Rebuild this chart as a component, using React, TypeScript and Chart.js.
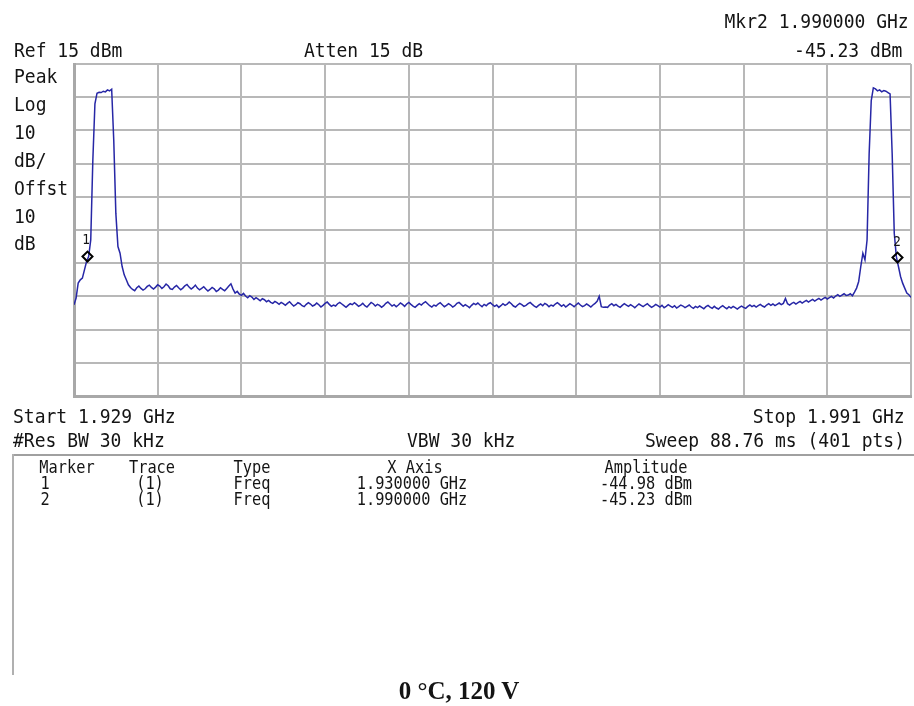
import React, { useEffect, useRef } from "react";
import { Chart, registerables } from "chart.js";

Chart.register(...registerables);

// ---- sweep definition ----
const startMHz = 1929;
const stopMHz = 1991;
const sweepPoints = 401;
const refLevelDbm = 15;
const dbPerDiv = 10;
const divisions = 10;

// ---- trace (dBm), 401 sweep points ----
const traceDbm: number[] = [
  -57.5, -55.5, -51, -50, -49.5, -47, -44.5, -43, -38, -14, 3, 6.2, 6.5, 6.4, 6.8, 6.6, 7.2, 6.9, 7.4, -8,
  -30, -40, -42, -46, -48.5, -50, -51.5, -52.3, -52.9, -53.3, -52.4, -51.9, -52.6, -53.1, -52.7, -52.0, -51.6, -52.3, -52.8, -52.2,
  -51.5, -51.9, -52.6, -52.1, -51.3, -51.8, -52.7, -52.9, -52.2, -51.7, -52.4, -53.0, -52.5, -51.8, -51.4, -52.2, -52.8, -52.3, -51.6, -52.5,
  -53.0, -52.6, -52.1, -52.8, -53.4, -52.9, -52.3, -52.7, -53.5, -53.1, -52.4, -52.9, -53.3, -52.6, -51.9, -51.2, -52.8, -54.0, -53.5, -54.3,
  -54.7, -54.1, -54.9, -55.4, -54.8, -55.2, -55.9, -55.4, -55.8, -56.3, -55.7, -56.0, -56.6, -56.2, -56.8, -57.1, -56.5, -56.9, -57.4, -56.8,
  -57.2, -57.7, -57.1, -56.6, -57.3, -57.9, -57.5, -56.9, -57.2, -57.8, -58.1, -57.4, -56.9, -57.3, -57.9, -57.6, -57.0, -57.5, -58.2, -57.7,
  -57.1, -56.7, -57.4, -58.0, -57.6, -57.9, -57.2, -56.8, -57.3, -57.8, -58.3, -57.7, -57.2, -57.5, -56.9, -57.4, -58.0, -57.6, -57.1, -57.8,
  -58.2, -57.5, -56.8, -57.2, -57.9, -57.4, -57.7, -58.3, -57.8, -57.1, -56.7, -57.3, -57.9, -57.5, -58.1, -57.6, -57.0, -57.4, -58.0, -57.3,
  -56.8, -57.4, -57.9, -58.3, -57.7, -57.2, -57.6, -57.0, -56.6, -57.2, -57.8, -58.2, -57.6, -57.9, -57.3, -56.9, -57.5, -58.1, -57.7, -57.2,
  -57.6, -58.2, -57.8, -57.1, -56.8, -57.4, -58.0, -57.5, -57.9, -58.4, -57.7, -57.1, -57.5, -57.0, -57.6, -58.1, -57.4, -57.8, -57.2, -56.9,
  -57.5, -58.0, -57.6, -58.3, -57.8, -57.2, -57.7, -57.3, -56.7, -57.2, -57.9, -58.2, -57.6, -57.1, -57.5, -58.0, -57.7, -57.2, -56.8, -57.4,
  -57.9, -58.3, -57.7, -57.3, -57.8, -57.1, -57.5, -58.1, -57.6, -57.9, -57.3, -56.9, -57.4, -58.0, -57.5, -58.2, -57.7, -57.2, -57.6, -58.1,
  -57.5, -57.0, -57.6, -58.1, -57.8, -57.3, -57.7, -58.2, -57.6, -57.1, -56.5, -55.0, -58.1, -58.3, -58.2, -58.3, -57.6, -57.2, -57.8, -57.4,
  -57.9, -58.3, -57.7, -57.2, -57.6, -58.0, -57.5, -57.9, -58.4, -57.8, -57.3, -57.7, -58.1, -57.6, -57.2, -57.8, -58.3, -57.9, -57.4, -57.8,
  -58.2, -57.7, -58.4, -58.0, -57.5, -57.9, -58.3, -57.8, -58.5, -58.1, -57.6, -57.9, -58.4, -58.0, -57.6, -58.2, -58.6, -58.0, -58.4, -57.9,
  -58.3, -58.7, -58.1, -57.7, -58.2, -58.6, -58.0, -58.5, -58.8, -58.2, -57.8, -58.3, -58.7, -58.1, -58.5, -58.0, -58.4, -58.8, -58.3, -57.9,
  -58.3, -58.6, -58.0, -57.6, -58.1, -57.7, -58.2, -57.8, -57.4, -57.9, -58.2, -57.6, -57.2, -57.7, -57.3, -57.8, -57.4, -57.0, -57.5, -57.1,
  -55.6, -57.2, -57.6, -57.1, -56.8, -57.3, -56.9, -56.5, -57.0, -56.6, -56.2, -56.7, -56.3, -55.9, -56.4, -56.0, -55.6, -56.1, -55.7, -55.3,
  -55.8, -55.4, -55.0, -55.5, -54.9, -54.5, -55.0, -54.6, -54.2, -54.7,
  -54.6, -54.2, -54.8, -53.7, -52.5, -50.5, -46, -42, -44, -38, -12, 4, 7.8, 7.5, 6.9, 7.2, 6.6, 7.0, 6.8, 6.4,
  6.0, -12, -36, -43, -46, -49, -51, -52.5, -54, -54.5, -55.3,
];

// ---- markers ----
const markerIds = ["1", "2"];
const markerTraces = ["(1)", "(1)"];
const markerTypes = ["Freq", "Freq"];
const markerFreqMHz = [1930, 1990];
const markerFreqText = ["1.930000 GHz", "1.990000 GHz"];
const markerAmpText = ["-44.98 dBm", "-45.23 dBm"];
const markerDrawnDbm = [-43.0, -43.3];

// ---- annotation texts ----
const leftAnnotations = ["Peak", "Log", "10", "dB/", "Offst", "10", "dB"];
const tableHeaders = ["Marker", "Trace", "Type", "X Axis", "Amplitude"];

const MONO = '"DejaVu Sans Mono", "Liberation Mono", monospace';
const SERIF = '"Liberation Serif", "DejaVu Serif", serif';
const W = 914;
const H = 706;
const CW = 918; // canvas slightly wider so the plot frame reaches x≈911

type TP = {
  x: number;
  base: number;
  text: string;
  size?: number;
  align?: "left" | "right" | "center";
  font?: string;
  weight?: number;
  ratio?: number;
  sx?: number;
};

function T({ x, base, text, size = 20, align = "left", font = MONO, weight = 400, ratio = 0.846, sx = 0.9 }: TP) {
  const style: React.CSSProperties = {
    position: "absolute",
    top: base - ratio * size,
    fontFamily: font,
    fontSize: size,
    lineHeight: size + "px",
    fontWeight: weight,
    whiteSpace: "pre",
    color: "#141414",
  };
  if (align === "left") {
    style.left = x;
    style.transformOrigin = "left center";
    style.transform = `scaleX(${sx})`;
  } else if (align === "right") {
    style.right = W - x;
    style.transformOrigin = "right center";
    style.transform = `scaleX(${sx})`;
  } else {
    style.left = x;
    style.transform = `translateX(-50%) scaleX(${sx})`;
  }
  return <div style={style}>{text}</div>;
}

export default function App() {
  const canvasRef = useRef<HTMLCanvasElement | null>(null);

  useEffect(() => {
    if (!canvasRef.current) return;
    const stepMHz = (stopMHz - startMHz) / (sweepPoints - 1);
    const tracePts = traceDbm.map((v, i) => ({ x: startMHz + i * stepMHz, y: v }));
    const markerPts = markerFreqMHz.map((f, i) => ({ x: f, y: markerDrawnDbm[i] }));
    const bottom = refLevelDbm - dbPerDiv * divisions;
    const xTicks = Array.from({ length: divisions + 1 }, (_, k) => startMHz + (k * (stopMHz - startMHz)) / divisions);
    const yTicks = Array.from({ length: divisions + 1 }, (_, k) => bottom + k * dbPerDiv);

    const chart = new Chart(canvasRef.current, {
      type: "line",
      data: {
        datasets: [
          {
            type: "scatter",
            data: markerPts,
            order: 0,
            pointStyle: "rectRot",
            pointRadius: 5,
            pointBorderColor: "#000",
            pointBackgroundColor: "rgba(255,255,255,0)",
            pointBorderWidth: 2,
            showLine: false,
          } as any,
          {
            data: tracePts,
            order: 1,
            borderColor: "#2727a6",
            borderWidth: 1.5,
            pointRadius: 0,
            tension: 0,
            fill: false,
          },
        ],
      },
      options: {
        animation: false,
        responsive: false,
        maintainAspectRatio: false,
        events: [],
        layout: { padding: { left: 74, top: 64, right: 3, bottom: H - 396 } },
        plugins: { legend: { display: false }, tooltip: { enabled: false } },
        scales: {
          x: {
            type: "linear",
            min: startMHz,
            max: stopMHz,
            ticks: { display: false },
            afterBuildTicks: (s: any) => {
              s.ticks = xTicks.map((v) => ({ value: v }));
            },
            grid: { color: "#b8b8b8", lineWidth: 2, drawTicks: false },
            border: { display: true, color: "#a8a8a8", width: 3 },
          },
          y: {
            type: "linear",
            min: bottom,
            max: refLevelDbm,
            ticks: { display: false },
            afterBuildTicks: (s: any) => {
              s.ticks = yTicks.map((v) => ({ value: v }));
            },
            grid: { color: "#b8b8b8", lineWidth: 2, drawTicks: false },
            border: { display: true, color: "#a8a8a8", width: 3 },
          },
        },
      },
    });
    return () => chart.destroy();
  }, []);

  const colX = [67, 152, 252, 415, 646];
  const rowValX = [45, 150, 252, 412, 646];

  return (
    <div style={{ position: "absolute", left: 0, top: 0, width: W, height: H, background: "#fff", overflow: "hidden" }}>
      <canvas ref={canvasRef} width={CW} height={H} style={{ position: "absolute", left: 0, top: 0, width: CW, height: H }} />

      <T x={909} base={28} text="Mkr2 1.990000 GHz" align="right" />
      <T x={14} base={57} text="Ref 15 dBm" />
      <T x={304} base={57} text="Atten 15 dB" />
      <T x={902} base={57} text="-45.23 dBm" align="right" />
      {leftAnnotations.map((t, i) => (
        <T key={"la" + i} x={14} base={83 + i * 27.9} text={t} />
      ))}

      <T x={86} base={244} text={markerIds[0]} size={14} align="center" />
      <T x={897} base={246} text={markerIds[1]} size={14} align="center" />

      <T x={13} base={423} text="Start 1.929 GHz" />
      <T x={905} base={423} text="Stop 1.991 GHz" align="right" />
      <T x={13} base={447} text="#Res BW 30 kHz" />
      <T x={407} base={447} text="VBW 30 kHz" />
      <T x={905} base={447} text="Sweep 88.76 ms (401 pts)" align="right" />

      <div style={{ position: "absolute", left: 13, top: 454, width: W - 13, height: 2, background: "#a0a0a0" }} />
      <div style={{ position: "absolute", left: 12, top: 454, width: 2, height: 221, background: "#b0b0b0" }} />

      {tableHeaders.map((t, i) => (
        <T key={"th" + i} x={colX[i]} base={473} text={t} size={17} align="center" />
      ))}
      {markerIds.map((m, r) => {
        const vals = [m, markerTraces[r], markerTypes[r], markerFreqText[r], markerAmpText[r]];
        return vals.map((v, c) => (
          <T key={"tr" + r + "_" + c} x={rowValX[c]} base={489 + r * 16} text={v} size={17} align="center" />
        ));
      })}

      <T x={459} base={699} text="0 °C, 120 V" size={25} font={SERIF} weight={700} align="center" ratio={0.8375} sx={1} />
    </div>
  );
}
